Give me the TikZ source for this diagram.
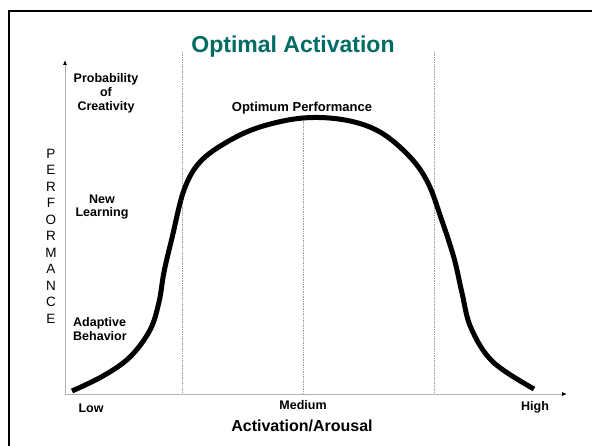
\documentclass[tikz,border=0pt]{standalone}
\usepackage{fontspec}
\setmainfont{Liberation Sans}
\usepackage{xcolor}
\usepackage{tikz}
\usetikzlibrary{arrows.meta}
\definecolor{titlegreen}{RGB}{0,108,100}

\tikzset{
 lbl/.style={font=\fontsize{12.5}{13.8}\selectfont\bfseries, align=center, inner sep=0pt},
 axisline/.style={draw=gray!60, line width=0.8pt, -{Latex[black,length=5pt,width=4pt]}},
 guide/.style={draw=gray!75, densely dotted, line width=0.7pt},
 curveline/.style={line width=5pt, line join=round}
}

\begin{document}
\begin{tikzpicture}[x=1pt,y=-1pt]
 \useasboundingbox (0,0) rectangle (592,446);
 \clip (0,0) rectangle (592,446);
 \draw [line width=2.6pt] (9,470) -- (9,11) -- (620,11);
 \node (title) at (293,47) {\fontsize{23}{26}\selectfont\bfseries\color{titlegreen}Optimal Activation};
 \coordinate (o) at (65,394);
 \coordinate (ytop) at (65,60);
 \coordinate (xend) at (567,394);
 \coordinate (g1) at (182,52);
 \coordinate (g1b) at (182,394);
 \coordinate (g2) at (434,52);
 \coordinate (g2b) at (434,394);
 \coordinate (peak) at (303,119);
 \coordinate (peakb) at (303,394);
 \draw [guide] (g1) -- (g1b);
 \draw [guide] (g2) -- (g2b);
 \draw [guide] (peak) -- (peakb);
 \draw [axisline] (o) -- (ytop);
 \draw [axisline] (o) -- (xend);
 \draw [curveline] plot [smooth, tension=0.6] coordinates {
  (72,391) (103,376) (130,357) (150,330) (159,302) (164,272) (172,238)
  (184,190) (200,162) (227,142) (260,127) (303,118) (345,120) (380,132)
  (410,157) (428,183) (441,218) (454,258) (462,293) (471,328) (493,362)
  (534,389)};
 \node [lbl] (optimum) at (302,108) {\fontsize{13}{15}\selectfont Optimum Performance};
 \node [lbl] (creat) at (106,93) {Probability\\of\\Creativity};
 \node [lbl] (learn) at (102,207) {New\\Learning};
 \node [lbl, align=left, anchor=west] (adapt) at (73,329) {Adaptive\\Behavior};
 \node [inner sep=0pt, align=center, font=\fontsize{13.5}{16.5}\selectfont] (perf) at (51,236)
  {P\\E\\R\\F\\O\\R\\M\\A\\N\\C\\E};
 \node [lbl] (low) at (91,408) {Low};
 \node [lbl] (medium) at (303,405) {Medium};
 \node [lbl] (high) at (535,407) {High};
 \node [lbl, font=\fontsize{16}{18}\selectfont\bfseries] (axis) at (302,426) {Activation/Arousal};
\end{tikzpicture}
\end{document}
